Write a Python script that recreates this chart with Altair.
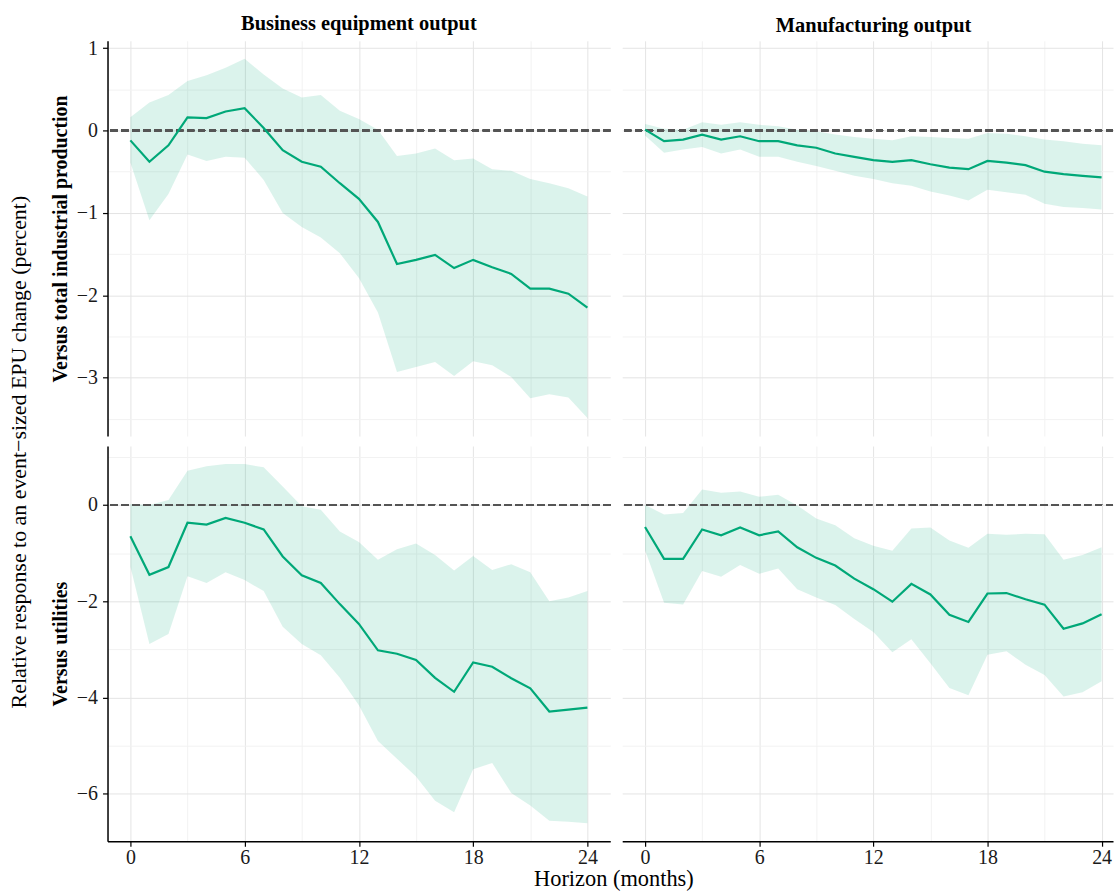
import altair as alt
import pandas as pd

FONT = "Liberation Serif"
GREEN = "#00a878"
MAJOR_GRID = "#e4e4e4"
MINOR_GRID = "#f2f2f2"

HORIZON = list(range(25))
X_TICKS = [0, 3, 6, 9, 12, 15, 18, 21, 24]

COLS = ["Business equipment output", "Manufacturing output"]
ROWS = ["Versus total industrial production", "Versus utilities"]

# Business equipment vs total IP
TL_est = [-0.12, -0.38, -0.18, 0.16, 0.15, 0.23, 0.27, 0.03, -0.24, -0.38, -0.44, -0.64, -0.83,
          -1.11, -1.62, -1.57, -1.51, -1.67, -1.57, -1.66, -1.74, -1.92, -1.92, -1.98, -2.15]
TL_hi = [0.16, 0.34, 0.43, 0.60, 0.67, 0.76, 0.87, 0.68, 0.51, 0.40, 0.43, 0.24, 0.14,
         0.01, -0.31, -0.28, -0.22, -0.36, -0.34, -0.47, -0.49, -0.59, -0.64, -0.70, -0.80]
TL_lo = [-0.39, -1.09, -0.77, -0.29, -0.37, -0.32, -0.33, -0.60, -1.00, -1.17, -1.30, -1.49, -1.79,
         -2.21, -2.93, -2.87, -2.81, -2.98, -2.80, -2.85, -2.99, -3.25, -3.20, -3.24, -3.49]

# Manufacturing vs total IP
TR_est = [0.01, -0.13, -0.11, -0.05, -0.11, -0.07, -0.13, -0.13, -0.18, -0.21, -0.28, -0.32, -0.36,
          -0.38, -0.36, -0.41, -0.45, -0.47, -0.37, -0.39, -0.42, -0.50, -0.53, -0.55, -0.57]
TR_hi = [0.08, 0.02, 0.01, 0.10, 0.07, 0.10, 0.07, 0.05, 0.01, -0.01, -0.05, -0.08, -0.10,
         -0.12, -0.07, -0.08, -0.09, -0.10, -0.03, -0.04, -0.07, -0.11, -0.13, -0.16, -0.18]
TR_lo = [-0.06, -0.27, -0.23, -0.20, -0.28, -0.23, -0.32, -0.32, -0.38, -0.43, -0.49, -0.55, -0.59,
         -0.64, -0.67, -0.74, -0.79, -0.85, -0.72, -0.75, -0.78, -0.89, -0.93, -0.94, -0.96]

# Business equipment vs utilities
BL_est = [-0.65, -1.45, -1.29, -0.37, -0.41, -0.27, -0.37, -0.51, -1.07, -1.46, -1.62, -2.06, -2.47,
          -3.02, -3.09, -3.22, -3.59, -3.88, -3.27, -3.36, -3.60, -3.81, -4.29, -4.25, -4.21]
BL_hi = [0.02, 0.00, 0.10, 0.71, 0.80, 0.85, 0.85, 0.78, 0.38, -0.03, -0.10, -0.55, -0.77,
         -1.14, -0.92, -0.80, -1.04, -1.36, -1.06, -1.35, -1.23, -1.40, -2.00, -1.92, -1.79]
BL_lo = [-1.28, -2.89, -2.68, -1.48, -1.62, -1.40, -1.56, -1.79, -2.53, -2.89, -3.12, -3.59, -4.16,
         -4.90, -5.27, -5.64, -6.14, -6.38, -5.49, -5.36, -5.98, -6.24, -6.56, -6.58, -6.61]

# Manufacturing vs utilities
BR_est = [-0.46, -1.12, -1.12, -0.51, -0.63, -0.47, -0.63, -0.55, -0.88, -1.10, -1.26, -1.53, -1.75,
          -2.01, -1.64, -1.86, -2.28, -2.43, -1.84, -1.83, -1.96, -2.07, -2.57, -2.46, -2.27]
BR_hi = [0.00, -0.20, -0.17, 0.32, 0.25, 0.28, 0.17, 0.21, -0.01, -0.28, -0.42, -0.69, -0.85,
         -0.95, -0.49, -0.47, -0.74, -0.89, -0.60, -0.62, -0.60, -0.61, -1.14, -1.04, -0.88]
BR_lo = [-0.94, -2.03, -2.07, -1.37, -1.49, -1.25, -1.43, -1.32, -1.75, -1.92, -2.08, -2.37, -2.64,
         -3.06, -2.79, -3.29, -3.80, -3.95, -3.11, -3.04, -3.32, -3.53, -3.98, -3.89, -3.66]


def frame(est, lo, hi):
    return pd.DataFrame({"h": HORIZON, "est": est, "lo": lo, "hi": hi})


def expanded(*arrays):
    vals = [v for a in arrays for v in a]
    lo, hi = min(vals), max(vals)
    pad = 0.05 * (hi - lo)
    return [lo - pad, hi + pad]


TOP_DOM = expanded(TL_lo, TL_hi, TR_lo, TR_hi)
BOT_DOM = expanded(BL_lo, BL_hi, BR_lo, BR_hi)
TOP_YT = [-3.5, -3.0, -2.5, -2.0, -1.5, -1.0, -0.5, 0.0, 0.5, 1.0]
BOT_YT = [-6, -5, -4, -3, -2, -1, 0, 1]

X_LEFT = [-1.2, 25.2]
X_RIGHT = [-1.2, 24.6]

W_LEFT = 505
W_RIGHT = 493
H = 397


def cond(test, a, b):
    return alt.condition(test, alt.value(a), alt.value(b))


def is_major(step):
    return f"abs(datum.value / {step} - round(datum.value / {step})) < 0.001"


def panel(df, ydom, yticks, ystep, xdom, width, left, bottom, row_title=None, col_title=None, col_dx=0):
    xmaj = is_major(6)
    xaxis = alt.Axis(
        values=X_TICKS,
        labels=bottom,
        labelExpr=f"{xmaj} ? datum.label : ''",
        labelPadding=1,
        ticks=bottom,
        tickColor=cond(xmaj, "#000000", "transparent"),
        domain=bottom,
        gridColor=cond(xmaj, MAJOR_GRID, MINOR_GRID),
        title=None,
    )
    ymaj = is_major(ystep)
    if left:
        yaxis = alt.Axis(
            values=yticks,
            labelExpr=f"{ymaj} ? format(datum.value, 'd') : ''",
            labelPadding=5,
            tickColor=cond(ymaj, "#000000", "transparent"),
            gridColor=cond(ymaj, MAJOR_GRID, MINOR_GRID),
            title=row_title,
            titleFontWeight="bold",
            titleFontSize=20,
            titlePadding=6,
        )
    else:
        yaxis = alt.Axis(
            values=yticks,
            labels=False,
            ticks=False,
            domain=False,
            gridColor=cond(ymaj, MAJOR_GRID, MINOR_GRID),
            title=None,
        )
    xs = alt.Scale(domain=xdom, nice=False, zero=False)
    ys = alt.Scale(domain=ydom, nice=False, zero=False)
    base = alt.Chart(df)
    band = base.mark_area(color=GREEN, opacity=0.14).encode(
        x=alt.X("h:Q", scale=xs, axis=xaxis),
        y=alt.Y("lo:Q", scale=ys, axis=yaxis),
        y2="hi:Q",
    )
    zero = base.mark_rule(color="#555555", strokeDash=[7, 4], strokeWidth=1.3).encode(
        y=alt.datum(0, scale=ys, axis=yaxis)
    )
    line = base.mark_line(color=GREEN, strokeWidth=2.2).encode(
        x=alt.X("h:Q", scale=xs, axis=xaxis),
        y=alt.Y("est:Q", scale=ys, axis=yaxis),
    )
    ch = alt.layer(band, zero, line).properties(width=width, height=H)
    if col_title:
        ch = ch.properties(title=alt.TitleParams(
            col_title, fontSize=20.5, fontWeight="bold", font=FONT, anchor="middle",
            frame="group", offset=4, dx=col_dx, color="#000000"))
    return ch


TL = panel(frame(TL_est, TL_lo, TL_hi), TOP_DOM, TOP_YT, 1, X_LEFT, W_LEFT, True, False,
           row_title=ROWS[0], col_title=COLS[0])
TR = panel(frame(TR_est, TR_lo, TR_hi), TOP_DOM, TOP_YT, 1, X_RIGHT, W_RIGHT, False, False,
           col_title=COLS[1], col_dx=6)
BL = panel(frame(BL_est, BL_lo, BL_hi), BOT_DOM, BOT_YT, 2, X_LEFT, W_LEFT, True, True,
           row_title=ROWS[1])
BR = panel(frame(BR_est, BR_lo, BR_hi), BOT_DOM, BOT_YT, 2, X_RIGHT, W_RIGHT, False, True)

row1 = alt.hconcat(TL, TR, spacing=10)
row2 = alt.hconcat(BL, BR, spacing=10)
inner = alt.vconcat(row1, row2, spacing=10).properties(
    title=alt.TitleParams("Horizon (months)", orient="bottom", anchor="middle",
                          fontSize=22.5, fontWeight="normal", font=FONT, dx=32, offset=1,
                          color="#000000")
)
chart = alt.hconcat(inner).properties(
    title=alt.TitleParams("Relative response to an event\u2212sized EPU change (percent)",
                          orient="left", anchor="middle", fontSize=22, fontWeight="normal",
                          font=FONT, offset=20, color="#000000")
).configure(
    font=FONT,
    padding={"left": 7, "top": 11, "right": 0, "bottom": 0},
).configure_view(stroke=None).configure_axis(
    labelFont=FONT,
    titleFont=FONT,
    labelFontSize=20,
    labelColor="#1a1a1a",
    titleColor="#000000",
    domainColor="#000000",
    domainWidth=1.5,
    tickSize=5,
    tickWidth=1.2,
    gridWidth=1,
)

chart.save("out.html", embed_options={"renderer": "svg", "actions": False})
